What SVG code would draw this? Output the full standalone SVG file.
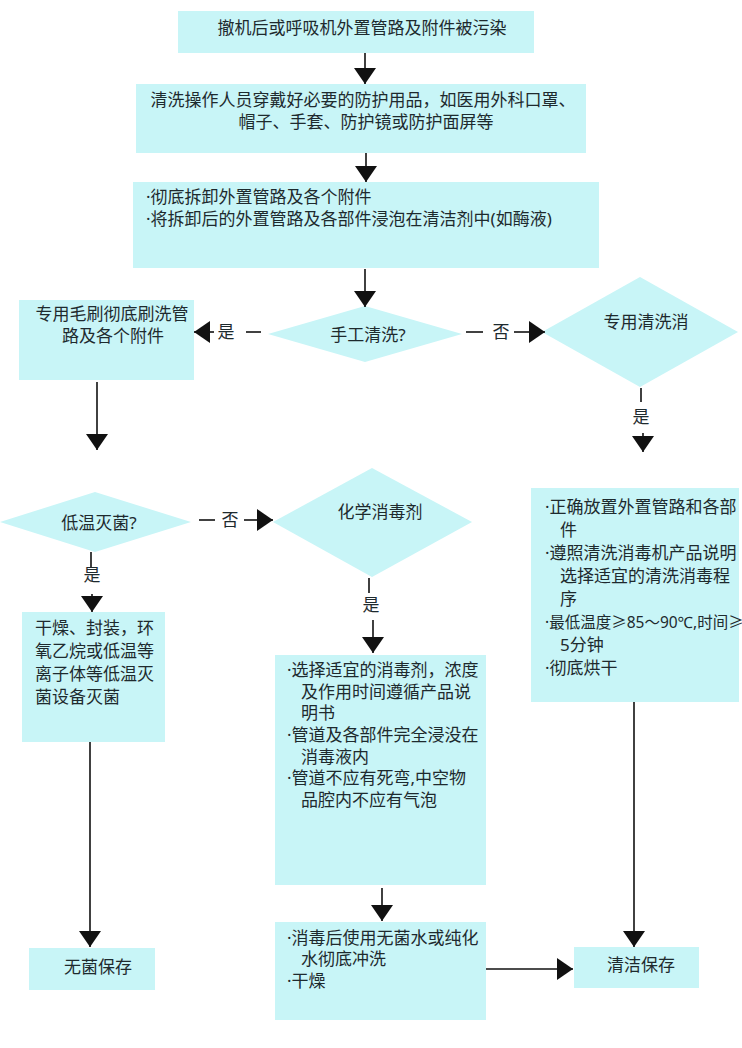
<svg xmlns="http://www.w3.org/2000/svg" width="742" height="1048" viewBox="0 0 742 1048">
<defs>
<style>
.n{fill:#c8f5f7;stroke:none}
.t{font-family:"Noto Sans","Noto Sans CJK SC",sans-serif;font-size:17px;fill:#1e2a2e}
.m{text-anchor:middle}
.c{stroke:#111;stroke-width:1.6;fill:none}
.a{marker-end:url(#ah)}
</style>
<marker id="ah" markerUnits="userSpaceOnUse" markerWidth="18" markerHeight="22" refX="16" refY="11" orient="auto">
<path d="M0,0 L16,11 L0,22 z" fill="#111"/>
</marker>
</defs>
<rect width="742" height="1048" fill="#ffffff"/>

<g id="n1"><rect class="n" x="178" y="11" width="356" height="42"/>
<text class="t m" x="362" y="34">撤机后或呼吸机外置管路及附件被污染</text></g>

<g id="n2"><rect class="n" x="136" y="84" width="450" height="69"/>
<text class="t m" x="363" y="106">清洗操作人员穿戴好必要的防护用品，如医用外科口罩、</text>
<text class="t m" x="366" y="128">帽子、手套、防护镜或防护面屏等</text></g>

<g id="n3"><rect class="n" x="133" y="182" width="466" height="86"/>
<text class="t" x="146" y="203">·彻底拆卸外置管路及各个附件</text>
<text class="t" x="146" y="225">·将拆卸后的外置管路及各部件浸泡在清洁剂中(如酶液)</text></g>

<g id="d1"><polygon class="n" points="268,334 365,306 462,334 365,362"/>
<text class="t m" x="368" y="341">手工清洗?</text></g>

<g id="n4"><rect class="n" x="19" y="300" width="175" height="80"/>
<text class="t m" x="112" y="320">专用毛刷彻底刷洗管</text>
<text class="t m" x="113" y="342">路及各个附件</text></g>

<g id="d2"><polygon class="n" points="542,332 640,277 738,332 640,387"/>
<text class="t m" x="646" y="328">专用清洗消</text></g>

<g id="d3"><polygon class="n" points="0,522 95,492 191,522 95,552"/>
<text class="t m" x="99" y="529">低温灭菌?</text></g>

<g id="d4"><polygon class="n" points="273,522 372,468 472,522 372,577"/>
<text class="t m" x="380" y="518">化学消毒剂</text></g>

<g id="n5"><rect class="n" x="531" y="488" width="208" height="214"/>
<text class="t" x="545" y="513">·正确放置外置管路和各部</text>
<text class="t" x="560" y="536">件</text>
<text class="t" x="545" y="559">·遵照清洗消毒机产品说明</text>
<text class="t" x="560" y="582">选择适宜的清洗消毒程</text>
<text class="t" x="560" y="605">序</text>
<text class="t" x="545" y="628" style="font-size:15.5px">·最低温度≥85～90℃,时间≥</text>
<text class="t" x="560" y="651">5分钟</text>
<text class="t" x="545" y="674">·彻底烘干</text></g>

<g id="n6"><rect class="n" x="22" y="612" width="143" height="130"/>
<text class="t" x="35" y="634">干燥、封装，环</text>
<text class="t" x="35" y="657">氧乙烷或低温等</text>
<text class="t" x="35" y="680">离子体等低温灭</text>
<text class="t" x="35" y="703">菌设备灭菌</text></g>

<g id="n7"><rect class="n" x="275" y="655" width="211" height="230"/>
<text class="t" x="287" y="676">·选择适宜的消毒剂，浓度</text>
<text class="t" x="301" y="698">及作用时间遵循产品说</text>
<text class="t" x="301" y="719">明书</text>
<text class="t" x="287" y="741">·管道及各部件完全浸没在</text>
<text class="t" x="301" y="763">消毒液内</text>
<text class="t" x="287" y="784">·管道不应有死弯,中空物</text>
<text class="t" x="301" y="806">品腔内不应有气泡</text></g>

<g id="n8"><rect class="n" x="275" y="922" width="211" height="98"/>
<text class="t" x="287" y="944">·消毒后使用无菌水或纯化</text>
<text class="t" x="301" y="965">水彻底冲洗</text>
<text class="t" x="287" y="987">·干燥</text></g>

<g id="n9"><rect class="n" x="29" y="948" width="126" height="42"/>
<text class="t m" x="98" y="973">无菌保存</text></g>

<g id="n10"><rect class="n" x="574" y="947" width="125" height="41"/>
<text class="t m" x="641" y="971">清洁保存</text></g>

<g id="connectors">
<line class="c a" x1="365" y1="53" x2="365" y2="84"/>
<line class="c a" x1="366" y1="153" x2="366" y2="182"/>
<line class="c a" x1="365" y1="269" x2="365" y2="307"/>
<line class="c" x1="261" y1="332" x2="246" y2="332"/>
<text class="t m" x="226" y="338">是</text>
<line class="c a" x1="214" y1="332" x2="194" y2="332"/>
<line class="c" x1="466" y1="332" x2="483" y2="332"/>
<text class="t m" x="501" y="338">否</text>
<line class="c a" x1="514" y1="332" x2="545" y2="332"/>
<line class="c a" x1="97" y1="382" x2="97" y2="450"/>
<line class="c" x1="641" y1="388" x2="641" y2="402"/>
<text class="t m" x="641" y="423">是</text>
<line class="c a" x1="643" y1="433" x2="643" y2="452"/>
<line class="c" x1="199" y1="520" x2="215" y2="520"/>
<text class="t m" x="230" y="526">否</text>
<line class="c a" x1="244" y1="520" x2="273" y2="520"/>
<line class="c" x1="91" y1="552" x2="91" y2="567"/>
<text class="t m" x="92" y="581">是</text>
<line class="c a" x1="92" y1="594" x2="92" y2="612"/>
<line class="c" x1="369" y1="578" x2="369" y2="593"/>
<text class="t m" x="371" y="611">是</text>
<line class="c a" x1="373" y1="620" x2="373" y2="653"/>
<line class="c a" x1="90" y1="742" x2="90" y2="947"/>
<line class="c a" x1="634" y1="702" x2="634" y2="947"/>
<line class="c a" x1="382" y1="888" x2="382" y2="921"/>
<line class="c a" x1="486" y1="969" x2="573" y2="969"/>
</g>
</svg>
